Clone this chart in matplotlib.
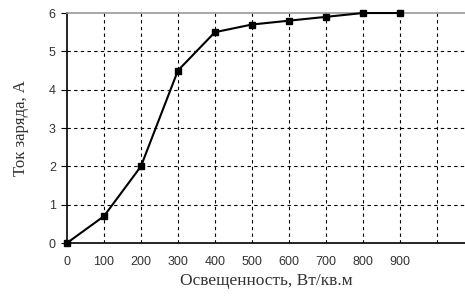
import matplotlib
matplotlib.use("Agg")
import matplotlib.pyplot as plt

# Data
illum = [0, 100, 200, 300, 400, 500, 600, 700, 800, 900]
current = [0, 0.7, 2.0, 4.5, 5.5, 5.7, 5.8, 5.9, 6.0, 6.0]
grid_x = [100, 200, 300, 400, 500, 600, 700, 800, 900, 1000]
y_ticks = [0, 1, 2, 3, 4, 5, 6]

fig = plt.figure(figsize=(4.65, 2.96), dpi=100)
ax = fig.add_axes([0.144, 0.179, 0.856, 0.777])

ax.plot(illum, current, color="black", linewidth=1.5, marker="s",
        markersize=4.5, zorder=3, clip_on=False)

ax.set_xlim(0, 1076)
ax.set_ylim(0, 6)
ax.set_xticks(illum)
ax.set_yticks(y_ticks)
ax.tick_params(axis="x", labelsize=9, length=0, pad=9, labelcolor="#333333")
ax.tick_params(axis="y", labelsize=9, length=4, pad=4, labelcolor="#333333")
for lbl in ax.get_xticklabels() + ax.get_yticklabels():
    lbl.set_family("Liberation Sans")

for gx in grid_x:
    ax.axvline(gx, color="black", linestyle=(0, (3, 3)), linewidth=0.8, zorder=1)
for gy in y_ticks[1:-1]:
    ax.axhline(gy, color="black", linestyle=(0, (3, 3)), linewidth=0.8, zorder=1)

ax.spines["top"].set_color("#999999")
ax.spines["top"].set_linewidth(1.2)
ax.spines["right"].set_visible(False)
ax.spines["left"].set_linewidth(1.2)
ax.spines["bottom"].set_linewidth(1.2)

ax.set_xlabel("Освещенность, Вт/кв.м", fontsize=12.5, family="Liberation Serif",
              color="#333333", labelpad=4)
ax.set_ylabel("Ток заряда, А", fontsize=12, family="Liberation Serif",
              color="#333333", labelpad=14)

fig.savefig("out.png", dpi=100)
